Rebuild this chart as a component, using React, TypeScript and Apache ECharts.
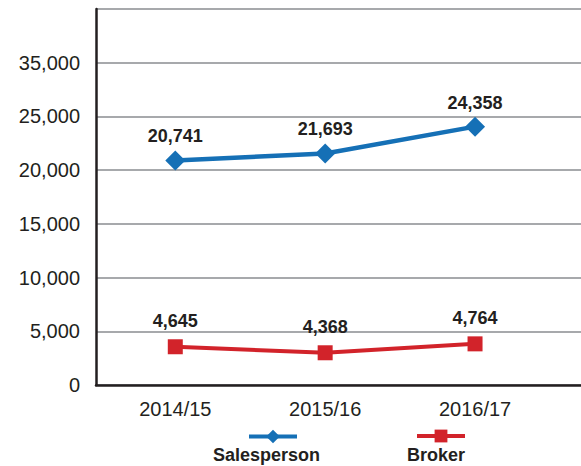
import React, { useEffect, useRef } from "react";
import * as echarts from "echarts";

const categories = ["2014/15", "2015/16", "2016/17"];
// values as printed in the data labels
const salespersonValues = [20741, 21693, 24358];
const brokerValues = [4645, 4368, 4764];
// heights at which the markers are drawn in the reference
const salespersonPlotted = [20900, 21550, 24050];
const brokerPlotted = [3560, 3000, 3830];
// y tick labels as printed in the reference (0 .. 35,000 step 5,000)
const yTickLabels = ["0", "5,000", "10,000", "15,000", "20,000", "25,000", "35,000", ""];

const FONT = "'Liberation Sans', Arial, sans-serif";
const TEXT = "#231f20";
const BLUE = "#1570b6";
const RED = "#d2232a";

const fmt = (n: number) => n.toLocaleString("en-US");

export default function App() {
  const ref = useRef<HTMLDivElement>(null);
  useEffect(() => {
    if (!ref.current) return;
    const chart = echarts.init(ref.current, undefined, { renderer: "svg" });
    chart.setOption({
      animation: false,
      backgroundColor: "#ffffff",
      grid: { left: 96, right: 0, top: 9, bottom: 81, containLabel: false },
      xAxis: {
        type: "value",
        min: -0.529,
        max: 2.707,
        axisLine: { show: true, onZero: false, lineStyle: { color: TEXT, width: 2.5 } },
        axisTick: { show: false },
        splitLine: { show: false },
        axisLabel: {
          customValues: [0, 1, 2],
          formatter: (v: number) => categories[Math.round(v)] ?? "",
          color: TEXT,
          fontFamily: FONT,
          fontSize: 20,
          margin: 14,
        },
      },
      yAxis: {
        type: "value",
        min: 0,
        max: 35000,
        interval: 5000,
        axisLine: { show: true, onZero: false, lineStyle: { color: TEXT, width: 2.5 } },
        axisTick: { show: false },
        splitLine: { show: true, lineStyle: { color: "#a7a9ac", width: 2 } },
        axisLabel: {
          formatter: (v: number) => yTickLabels[Math.round(v / 5000)] ?? "",
          color: TEXT,
          fontFamily: FONT,
          fontSize: 20,
          margin: 16,
        },
      },
      legend: [
        {
          data: ["Salesperson"],
          left: 242,
          top: 423,
          itemWidth: 48,
          itemHeight: 17,
          lineStyle: { width: 4 },
          formatter: () => "",
          textStyle: { fontSize: 1 },
        },
        {
          data: ["Broker"],
          left: 410,
          top: 423,
          itemWidth: 48,
          itemHeight: 16,
          lineStyle: { width: 4 },
          formatter: () => "",
          textStyle: { fontSize: 1 },
        },
      ],
      graphic: [
        {
          type: "text",
          left: 213,
          top: 446,
          style: { text: "Salesperson", font: `bold 18px ${FONT}`, fill: TEXT },
        },
        {
          type: "text",
          left: 407,
          top: 446,
          style: { text: "Broker", font: `bold 18px ${FONT}`, fill: TEXT },
        },
      ],
      series: [
        {
          name: "Salesperson",
          type: "line",
          data: salespersonPlotted.map((v, i) => [i, v]),
          symbol: "diamond",
          symbolSize: 20,
          itemStyle: { color: BLUE },
          lineStyle: { color: BLUE, width: 4.5 },
          label: {
            show: true,
            position: "top",
            distance: 5,
            formatter: (p: any) => fmt(salespersonValues[p.dataIndex]),
            color: TEXT,
            fontFamily: FONT,
            fontWeight: "bold",
            fontSize: 18,
          },
        },
        {
          name: "Broker",
          type: "line",
          data: brokerPlotted.map((v, i) => [i, v]),
          symbol: "rect",
          symbolSize: 15,
          itemStyle: { color: RED },
          lineStyle: { color: RED, width: 4 },
          label: {
            show: true,
            position: "top",
            distance: 9,
            formatter: (p: any) => fmt(brokerValues[p.dataIndex]),
            color: TEXT,
            fontFamily: FONT,
            fontWeight: "bold",
            fontSize: 18,
          },
        },
      ],
    });
    return () => chart.dispose();
  }, []);
  return (
    <div
      ref={ref}
      style={{ position: "fixed", left: 0, top: 0, width: 581, height: 466 }}
    />
  );
}
